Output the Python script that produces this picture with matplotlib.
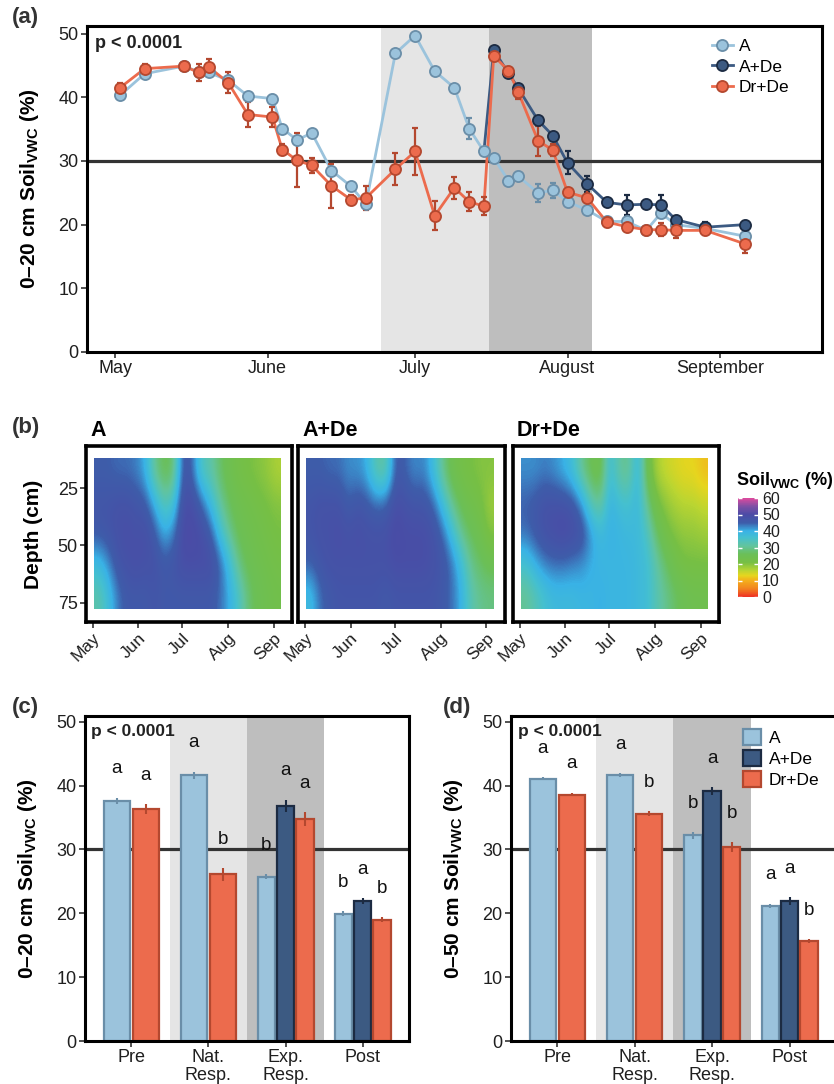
import numpy as np
import pandas as pd
import matplotlib
matplotlib.use('Agg')
import matplotlib.pyplot as plt
import matplotlib.dates as mdates
from matplotlib.colors import LinearSegmentedColormap
from matplotlib.lines import Line2D
from matplotlib.patches import Patch

plt.rcParams['font.family'] = ['Liberation Sans', 'DejaVu Sans']
plt.rcParams['mathtext.fontset'] = 'custom'
plt.rcParams['mathtext.rm'] = 'Liberation Sans'
plt.rcParams['mathtext.bf'] = 'Liberation Sans:bold'
plt.rcParams['mathtext.it'] = 'Liberation Sans:italic'

# ---------------- (a) 0-20 cm soil moisture time series ----------------
dates_a = ['2019-05-02', '2019-05-07', '2019-05-15', '2019-05-18', '2019-05-20', '2019-05-24',
           '2019-05-28', '2019-06-02', '2019-06-04', '2019-06-07', '2019-06-10', '2019-06-14',
           '2019-06-18', '2019-06-21', '2019-06-27', '2019-07-01', '2019-07-05', '2019-07-09',
           '2019-07-12', '2019-07-15', '2019-07-17', '2019-07-20', '2019-07-22', '2019-07-26',
           '2019-07-29', '2019-08-01', '2019-08-05', '2019-08-09', '2019-08-13', '2019-08-17',
           '2019-08-20', '2019-08-23', '2019-08-29', '2019-09-06']
a_vwc = [40.3, 43.7, 44.9, 44.0, 43.9, 42.7, 40.2, 39.8, 35.1, 33.3, 34.4, 28.5, 26.0, 23.2,
         46.9, 49.7, 44.1, 41.5, 35.1, 31.5, 30.5, 26.9, 27.6, 25.0, 25.4, 23.6, 22.3, 20.5,
         20.5, 19.1, 21.8, 20.0, 19.4, 18.2]
a_se = [0.4, 0.4, 0.3, 0.4, 0.4, 0.5, 0.4, 0.6, 0.4, 0.5, 0.4, 0.6, 0.4, 0.7, 0.4, 0.4, 0.4,
        0.4, 1.6, 0.4, 0.4, 0.6, 0.6, 1.4, 1.2, 0.5, 0.5, 0.5, 0.6, 0.4, 0.7, 0.5, 0.5, 0.8]
drde_vwc = [41.5, 44.5, 44.9, 43.9, 44.8, 42.3, 37.3, 36.9, 31.8, 30.1, 29.3, 26.1, 23.9, 24.2,
            28.7, 31.5, 21.4, 25.8, 23.6, 22.9, 46.5, 44.2, 40.8, 33.2, 31.7, 25.1, 24.2, 20.4,
            19.7, 19.2, 19.2, 19.1, 19.1, 17.0]
drde_se = [0.8, 0.8, 0.3, 1.3, 1.2, 1.6, 1.9, 1.6, 0.9, 4.25, 1.15, 3.5, 0.8, 1.9, 2.5, 3.65,
           2.3, 1.75, 1.5, 1.4, 0.8, 0.6, 1.0, 2.35, 0.9, 0.5, 1.8, 0.7, 0.7, 0.5, 1.0, 1.25,
           0.8, 1.4]
dates_ade = ['2019-07-15', '2019-07-17', '2019-07-20', '2019-07-22', '2019-07-26', '2019-07-29',
             '2019-08-01', '2019-08-05', '2019-08-09', '2019-08-13', '2019-08-17', '2019-08-20',
             '2019-08-23', '2019-08-29', '2019-09-06']
ade_vwc = [31.5, 47.4, 43.8, 41.4, 36.4, 34.0, 29.7, 26.4, 23.5, 23.1, 23.2, 23.1, 20.8, 19.6, 20.0]
ade_se = [0.4, 0.5, 0.5, 0.5, 0.6, 0.5, 1.8, 1.25, 0.6, 1.55, 0.6, 1.55, 0.6, 0.8, 0.5]

nat_resp = ('2019-06-24', '2019-07-16')
exp_resp = ('2019-07-16', '2019-08-06')

# ---------------- (b) depth profiles (rows: shallow -> deep) ----------------
heat_A = [
    [45, 45, 44, 44, 43, 40, 30, 25, 27, 47, 45, 34, 32, 27, 24, 22, 21, 20, 19, 17],
    [47, 47, 48, 48, 47, 46, 40, 33, 36, 49, 49, 45, 38, 31, 26, 24, 23, 22, 21, 20],
    [46, 47, 48, 49, 48, 49, 46, 40, 43, 50, 50, 49, 46, 37, 30, 25, 24, 23, 22, 21],
    [38, 42, 47, 48, 49, 48, 48, 46, 47, 49, 49, 49, 49, 45, 38, 29, 25, 24, 23, 22],
    [32, 37, 43, 46, 46, 46, 47, 46, 46, 46, 46, 46, 46, 44, 40, 35, 28, 25, 24, 23],
]
heat_ADe = [
    [45, 45, 44, 44, 42, 42, 40, 32, 31, 46, 45, 42, 43, 38, 30, 24, 22, 21, 20, 20],
    [47, 48, 48, 48, 45, 47, 46, 44, 45, 49, 48, 47, 47, 45, 38, 30, 25, 23, 22, 18],
    [47, 48, 48, 49, 48, 49, 48, 48, 48, 50, 49, 49, 49, 48, 45, 38, 30, 26, 24, 20],
    [45, 47, 48, 48, 48, 48, 48, 48, 48, 49, 49, 49, 49, 48, 47, 44, 38, 30, 27, 25],
    [38, 44, 46, 47, 47, 47, 47, 47, 46, 47, 47, 47, 47, 47, 46, 44, 40, 33, 30, 29],
]
heat_DrDe = [
    [42, 42, 43, 42, 40, 37, 30, 25, 23, 38, 31, 29, 40, 24, 17, 15, 14, 13, 13, 11],
    [45, 46, 48, 48, 48, 47, 42, 33, 30, 40, 37, 36, 39, 30, 22, 19, 17, 16, 16, 15],
    [44, 46, 48, 49, 50, 49, 48, 42, 38, 40, 39, 38, 38, 35, 27, 22, 20, 19, 19, 18],
    [36, 40, 43, 44, 44, 43, 42, 40, 39, 39, 39, 39, 38, 37, 32, 27, 23, 21, 21, 21],
    [30, 33, 36, 38, 38, 38, 39, 39, 40, 39, 39, 39, 38, 37, 33, 30, 27, 25, 24, 24],
]
heat_span = ('2019-05-02', '2019-09-06')
depth_top, depth_bottom = 12, 78

cbar_pos = [0, 5, 10, 13, 16, 21, 26, 31, 36, 40, 45, 50, 55, 60]
cbar_cols = ['#EE3124', '#F2841F', '#F4B01C', '#E6D61F', '#B9D532', '#76BF45', '#6BBF58',
             '#62C49E', '#45C0CF', '#39B2E6', '#3E5DAA', '#4B4BA6', '#7D4FA5', '#DE4A9E']

# ---------------- (c), (d) period means ----------------
periods = ['Pre', 'Nat.\nResp.', 'Exp.\nResp.', 'Post']
c_A = [37.6, 41.6, 25.7, 19.9]
c_A_se = [0.5, 0.6, 0.4, 0.4]
c_ADe = [np.nan, np.nan, 36.8, 21.9]
c_ADe_se = [np.nan, np.nan, 1.0, 0.5]
c_DrDe = [36.3, 26.1, 34.7, 19.0]
c_DrDe_se = [0.8, 1.0, 1.1, 0.4]
c_letters = [['a', 'a', 'b', 'b'], [None, None, 'a', 'a'], ['a', 'b', 'a', 'b']]

d_A = [41.1, 41.6, 32.2, 21.2]
d_A_se = [0.2, 0.3, 0.5, 0.3]
d_ADe = [np.nan, np.nan, 39.2, 21.9]
d_ADe_se = [np.nan, np.nan, 0.6, 0.6]
d_DrDe = [38.6, 35.6, 30.4, 15.7]
d_DrDe_se = [0.3, 0.4, 0.8, 0.3]
d_letters = [['a', 'a', 'b', 'a'], [None, None, 'a', 'a'], ['a', 'b', 'b', 'b']]

treatments = ['A', 'A+De', 'Dr+De']
fills = ['#9BC3DC', '#3C5A82', '#EC6B4D']
edges = ['#6A8EA8', '#1C2B42', '#B4482F']
light_gray = '#E5E5E5'
dark_gray = '#BEBEBE'
txt = '#1f1f1f'

W, H = 834, 1084


def box(x0, y0, x1, y1):
    # pixel box (top-left origin) -> figure fraction rect
    return [x0 / W, 1 - y1 / H, (x1 - x0) / W, (y1 - y0) / H]


def style(ax, lw=2.2):
    for s in ax.spines.values():
        s.set_linewidth(lw)
        s.set_color('black')
    ax.tick_params(direction='out', length=4, width=1.2, color='#333333',
                   labelsize=13, labelcolor=txt, pad=2)


vwc_label = r'Soil$_{\mathbf{VWC}}$ (%)'

fig = plt.figure(figsize=(W / 100, H / 100), dpi=100)

# ---------------- panel (a) ----------------
ax = fig.add_axes(box(87, 26, 822, 352))
ax.axvspan(pd.Timestamp(nat_resp[0]), pd.Timestamp(nat_resp[1]), color=light_gray, lw=0, zorder=0)
ax.axvspan(pd.Timestamp(exp_resp[0]), pd.Timestamp(exp_resp[1]), color=dark_gray, lw=0, zorder=0)
ax.axhline(30, color='#333333', lw=2.3, zorder=1)

series = [(dates_a, a_vwc, a_se), (dates_ade, ade_vwc, ade_se), (dates_a, drde_vwc, drde_se)]
for k, (d, v, e) in enumerate(series):
    x = pd.to_datetime(d)
    ax.plot(x, v, '-', color=fills[k], lw=2.0, zorder=3 + 0.1 * k)
for k, (d, v, e) in enumerate(series):
    x = pd.to_datetime(d)
    ax.errorbar(x, v, yerr=e, fmt='none', ecolor=edges[k], elinewidth=1.6,
                capsize=2.2, capthick=1.6, zorder=4 + 0.1 * k)
for k, (d, v, e) in enumerate(series):
    x = pd.to_datetime(d)
    # A+De shares its first date with A, so its first marker stays hidden
    every = slice(1, None) if k == 1 else None
    ax.plot(x, v, 'o', ms=8, mfc=fills[k], mec=edges[k], mew=1.3,
            markevery=every, zorder=5 + 0.1 * k)

ax.set_xlim(pd.Timestamp('2019-04-25 07:00'), pd.Timestamp('2019-09-21 18:00'))
ax.set_ylim(0, 51.2)
ax.set_yticks([0, 10, 20, 30, 40, 50])
ax.xaxis.set_major_locator(mdates.MonthLocator(bymonth=[5, 6, 7, 8, 9]))
ax.xaxis.set_major_formatter(mdates.DateFormatter('%B'))
style(ax)
ax.set_ylabel('0–20 cm ' + vwc_label, fontsize=15, fontweight='bold', color='black')
ax.yaxis.set_label_coords(-0.063, 0.5)
ax.text(0.011, 0.945, 'p < 0.0001', transform=ax.transAxes, fontsize=13,
        fontweight='bold', color='#222222', va='center', ha='left')
handles = [Line2D([0], [0], color=fills[k], lw=2, marker='o', ms=8, mfc=fills[k],
                  mec=edges[k], mew=1.3) for k in range(3)]
ax.legend(handles, treatments, loc='upper left', bbox_to_anchor=(0.85, 0.96),
          frameon=False, fontsize=12.5, handlelength=1.2, handletextpad=0.35,
          labelspacing=0.3, borderpad=0, borderaxespad=0)

# ---------------- panel (b) ----------------
vwc_cmap = LinearSegmentedColormap.from_list(
    'vwc', list(zip(np.array(cbar_pos) / 60.0, cbar_cols)))
x0, x1 = mdates.date2num(pd.Timestamp(heat_span[0])), mdates.date2num(pd.Timestamp(heat_span[1]))
frames = [(86, 292), (298, 505), (513, 719)]
grids = [heat_A, heat_ADe, heat_DrDe]
im = None
for k in range(3):
    hx = fig.add_axes(box(frames[k][0], 446, frames[k][1], 622))
    im = hx.imshow(np.array(grids[k], dtype=float), cmap=vwc_cmap, vmin=0, vmax=60,
                   aspect='auto', interpolation='bicubic', origin='upper',
                   extent=(x0, x1, depth_bottom, depth_top))
    hx.set_xlim(pd.Timestamp('2019-04-26 10:00'), pd.Timestamp('2019-09-13 14:00'))
    hx.set_ylim(83.5, 6.5)
    hx.xaxis.set_major_locator(mdates.MonthLocator(bymonth=[5, 6, 7, 8, 9]))
    hx.xaxis.set_major_formatter(mdates.DateFormatter('%b'))
    style(hx, lw=2.6)
    hx.tick_params(axis='x', labelsize=12.5)
    for lab in hx.get_xticklabels():
        lab.set_rotation(45)
        lab.set_ha('right')
        lab.set_va('top')
        lab.set_rotation_mode('anchor')
    if k == 0:
        hx.set_yticks([25, 50, 75])
        hx.set_ylabel('Depth (cm)', fontsize=15, fontweight='bold', color='black')
        hx.yaxis.set_label_coords(-0.21, 0.5)
    else:
        hx.set_yticks([])
    fig.text((frames[k][0] + 4) / W, 1 - 431 / H, treatments[k], fontsize=15.5,
             fontweight='bold', va='center', ha='left')

cax = fig.add_axes(box(738, 498, 758, 597))
cb = fig.colorbar(im, cax=cax, ticks=range(0, 61, 10))
cb.outline.set_visible(False)
cax.tick_params(which='both', direction='in', length=3, width=1, color='white',
                left=True, right=True, labelsize=11.5, labelcolor=txt, pad=3)
fig.text(736 / W, 1 - 481 / H, vwc_label, fontsize=13, fontweight='bold', va='center', ha='left')

# ---------------- panels (c) and (d) ----------------


def bar_panel(ax, means, ses, letters, ylabel, label_x):
    ax.axvspan(0.5, 1.5, color=light_gray, lw=0, zorder=0)
    ax.axvspan(1.5, 2.5, color=dark_gray, lw=0, zorder=0)
    ax.axhline(30, color='#333333', lw=2.3, zorder=1)
    for i in range(len(periods)):
        present = [k for k in range(3) if not np.isnan(means[k][i])]
        step = 0.75 / len(present)
        for j, k in enumerate(present):
            xc = i - 0.375 + step * (j + 0.5)
            ax.bar(xc, means[k][i], width=step * 0.9, color=fills[k], edgecolor=edges[k],
                   linewidth=1.6, zorder=2)
            ax.errorbar(xc, means[k][i], yerr=ses[k][i], fmt='none', ecolor=edges[k],
                        elinewidth=1.5, capsize=0, zorder=3)
            ax.text(xc, means[k][i] + ses[k][i] + 3.8, letters[k][i], ha='center',
                    va='baseline', fontsize=13.5, color='#111111', zorder=4)
    ax.set_xlim(-0.6, 3.6)
    ax.set_ylim(0, 50.9)
    ax.set_yticks([0, 10, 20, 30, 40, 50])
    ax.set_xticks(range(len(periods)))
    ax.set_xticklabels(periods, linespacing=1.05)
    style(ax)
    ax.set_ylabel(ylabel, fontsize=15, fontweight='bold', color='black')
    ax.yaxis.set_label_coords(label_x, 0.5)
    ax.text(0.02, 0.952, 'p < 0.0001', transform=ax.transAxes, fontsize=12.5,
            fontweight='bold', color='#222222', va='center', ha='left', zorder=5)


axc = fig.add_axes(box(85, 716, 409, 1041))
bar_panel(axc, [c_A, c_ADe, c_DrDe], [c_A_se, c_ADe_se, c_DrDe_se], c_letters,
          '0–20 cm ' + vwc_label, -0.142)

axd = fig.add_axes(box(511, 716, 836, 1041))
bar_panel(axd, [d_A, d_ADe, d_DrDe], [d_A_se, d_ADe_se, d_DrDe_se], d_letters,
          '0–50 cm ' + vwc_label, -0.140)
patches = [Patch(facecolor=fills[k], edgecolor=edges[k], linewidth=1.6) for k in range(3)]
axd.legend(patches, treatments, loc='upper left', bbox_to_anchor=(0.715, 0.96),
           frameon=False, fontsize=12.5, handlelength=1.0, handleheight=1.0,
           handletextpad=0.45, labelspacing=0.25, borderpad=0, borderaxespad=0)

# panel tags
for tag, (px, py) in zip(['(a)', '(b)', '(c)', '(d)'],
                         [(12, 18), (12, 428), (12, 707), (443, 707)]):
    fig.text(px / W, 1 - py / H, tag, fontsize=16, fontweight='bold', color='#333333',
             va='center', ha='left')

fig.savefig('out.png', dpi=100)
